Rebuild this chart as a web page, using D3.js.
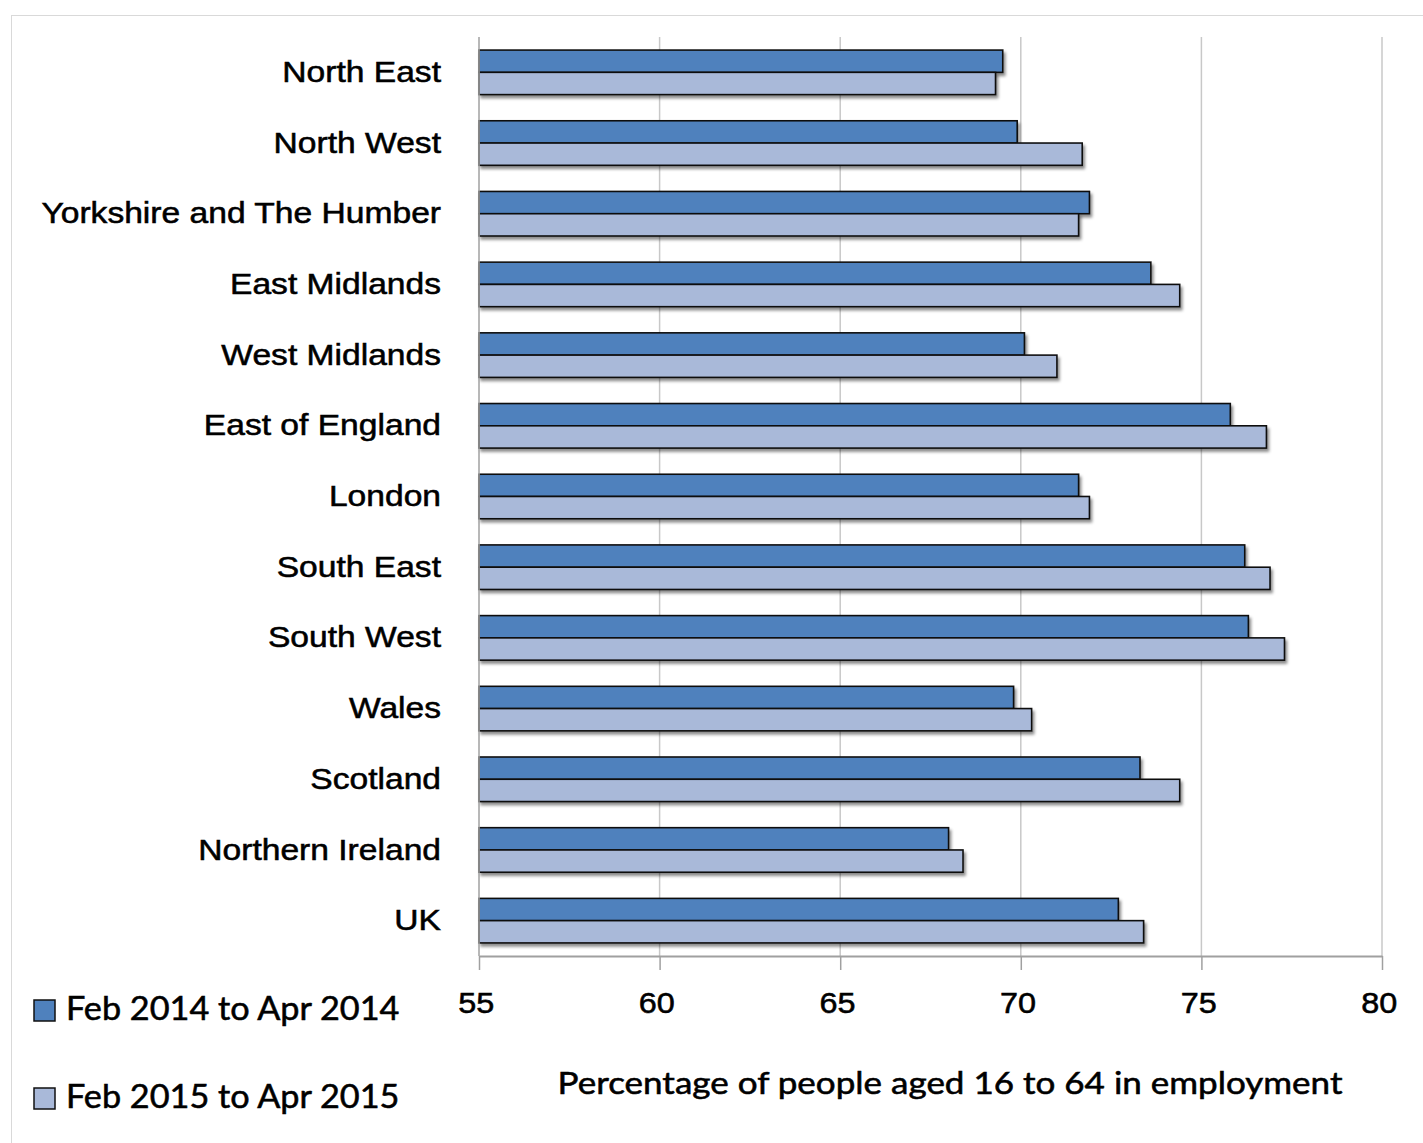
<!DOCTYPE html>
<html>
<head>
<meta charset="utf-8">
<script src="https://cdn.jsdelivr.net/npm/d3@7"></script>
<style>
  body { margin: 0; background: #fff; }
  svg { display: block; font-family: Lato, "Open Sans", sans-serif; }
  svg text { fill: #000; stroke: #000; stroke-width: 0.55px; }
</style>
</head>
<body>
<svg id="chart"></svg>
<script>
// data
var regions = ["North East", "North West", "Yorkshire and The Humber", "East Midlands",
  "West Midlands", "East of England", "London", "South East", "South West",
  "Wales", "Scotland", "Northern Ireland", "UK"]
var series = ["Feb 2014 to Apr 2014", "Feb 2015 to Apr 2015"]
var values2014 = [69.5, 69.9, 71.9, 73.6, 70.1, 75.8, 71.6, 76.2, 76.3, 69.8, 73.3, 68.0, 72.7]
var values2015 = [69.3, 71.7, 71.6, 74.4, 71.0, 76.8, 71.9, 76.9, 77.3, 70.3, 74.4, 68.4, 73.4]
var xTicks = [55, 60, 65, 70, 75, 80]
var axisTitle = "Percentage of people aged 16 to 64 in employment"

var width = 1423,
  height = 1143

var colors = d3.scaleOrdinal()
  .domain(series)
  .range(["#4f81bd", "#a9b9d9"])

var svg = d3.select("#chart")
  .attr("width", width)
  .attr("height", height)

// shadow for the bars
var defs = svg.append("defs")
var shadow = defs.append("filter")
  .attr("id", "shadow")
  .attr("x", "-5%").attr("y", "-30%")
  .attr("width", "110%").attr("height", "170%")
shadow.append("feDropShadow")
  .attr("dx", 2).attr("dy", 3)
  .attr("stdDeviation", 1.6)
  .attr("flood-color", "#000")
  .attr("flood-opacity", 0.45)

// chart frame
svg.append("rect")
  .attr("x", 11.5).attr("y", 15.5)
  .attr("width", 1420).attr("height", 1140)
  .style("fill", "#fff")
  .style("stroke", "#d9d9d9")

var plot = { left: 479, right: 1382, top: 37, bottom: 956 }

var x = d3.scaleLinear()
  .domain([55, 80])
  .range([plot.left, plot.right])

var y = d3.scaleBand()
  .domain(regions)
  .range([plot.top, plot.bottom])
  .paddingInner(0.37)
  .paddingOuter(0.185)

var ySub = d3.scaleBand()
  .domain(series)
  .range([0, y.bandwidth()])

// gridlines
svg.append("g")
  .selectAll("line")
  .data(xTicks.slice(1))
  .enter()
  .append("line")
  .attr("x1", function (d) { return x(d) })
  .attr("x2", function (d) { return x(d) })
  .attr("y1", plot.top)
  .attr("y2", plot.bottom)
  .style("stroke", "#c8c8c8")
  .style("stroke-width", 1.5)

// bars
var rows = regions.map(function (r, i) {
  return [
    { region: r, key: series[0], value: values2014[i] },
    { region: r, key: series[1], value: values2015[i] }
  ]
})

var group = svg.append("g")
  .selectAll("g.row")
  .data(rows)
  .enter()
  .append("g")
  .attr("class", "row")
  .attr("transform", function (d) { return "translate(0," + y(d[0].region) + ")" })

group.selectAll("rect")
  .data(function (d) { return d })
  .enter()
  .append("rect")
  .attr("x", x(55))
  .attr("y", function (d) { return ySub(d.key) })
  .attr("width", function (d) { return x(d.value) - x(55) })
  .attr("height", ySub.bandwidth())
  .attr("filter", "url(#shadow)")
  .style("fill", function (d) { return colors(d.key) })
  .style("stroke", "#111")
  .style("stroke-width", 1.6)

// y axis (labels a bit wide, like the original's font)
var labelStretch = 1.12
var yAxis = svg.append("g")
  .attr("transform", "translate(" + plot.left + ",0)")
  .call(d3.axisLeft(y).tickSize(0).tickPadding(38))
yAxis.select(".domain")
  .attr("d", "M0," + plot.top + "V" + plot.bottom)
  .style("stroke", "#a0a0a0")
  .style("stroke-width", 1.5)
yAxis.selectAll("text")
  .attr("x", -38 / labelStretch)
  .attr("transform", "scale(" + labelStretch + ",1)")
  .style("font-size", "30px")

// x axis
var xAxis = svg.append("g")
  .attr("transform", "translate(0," + plot.bottom + ")")
  .call(d3.axisBottom(x).tickValues(xTicks).tickSize(14).tickSizeOuter(0).tickPadding(22))
xAxis.select(".domain")
  .style("stroke", "#a0a0a0")
  .style("stroke-width", 2)
xAxis.selectAll(".tick line")
  .style("stroke", "#a0a0a0")
  .style("stroke-width", 1.5)
xAxis.selectAll("text")
  .attr("dx", -3)
  .attr("transform", "scale(1.08,1)")
  .style("font-size", "30px")

// axis title
svg.append("text")
  .attr("transform", "translate(950,1094) scale(1.13,1)")
  .attr("text-anchor", "middle")
  .style("font-size", "31px")
  .text(axisTitle)

// legend
var legendStretch = 1.07
var legend = svg.append("g")
  .selectAll("g.legend")
  .data(series)
  .enter()
  .append("g")
  .attr("class", "legend")
  .attr("transform", function (d, i) { return "translate(34," + (1000 + i * 88) + ")" })

legend.append("rect")
  .attr("width", 21)
  .attr("height", 21)
  .style("fill", function (d) { return colors(d) })
  .style("stroke", "#111")
  .style("stroke-width", 1.5)

legend.append("text")
  .attr("x", 32 / legendStretch)
  .attr("y", 20)
  .attr("transform", "scale(" + legendStretch + ",1)")
  .style("font-size", "32px")
  .text(function (d) { return d })
</script>
</body>
</html>
